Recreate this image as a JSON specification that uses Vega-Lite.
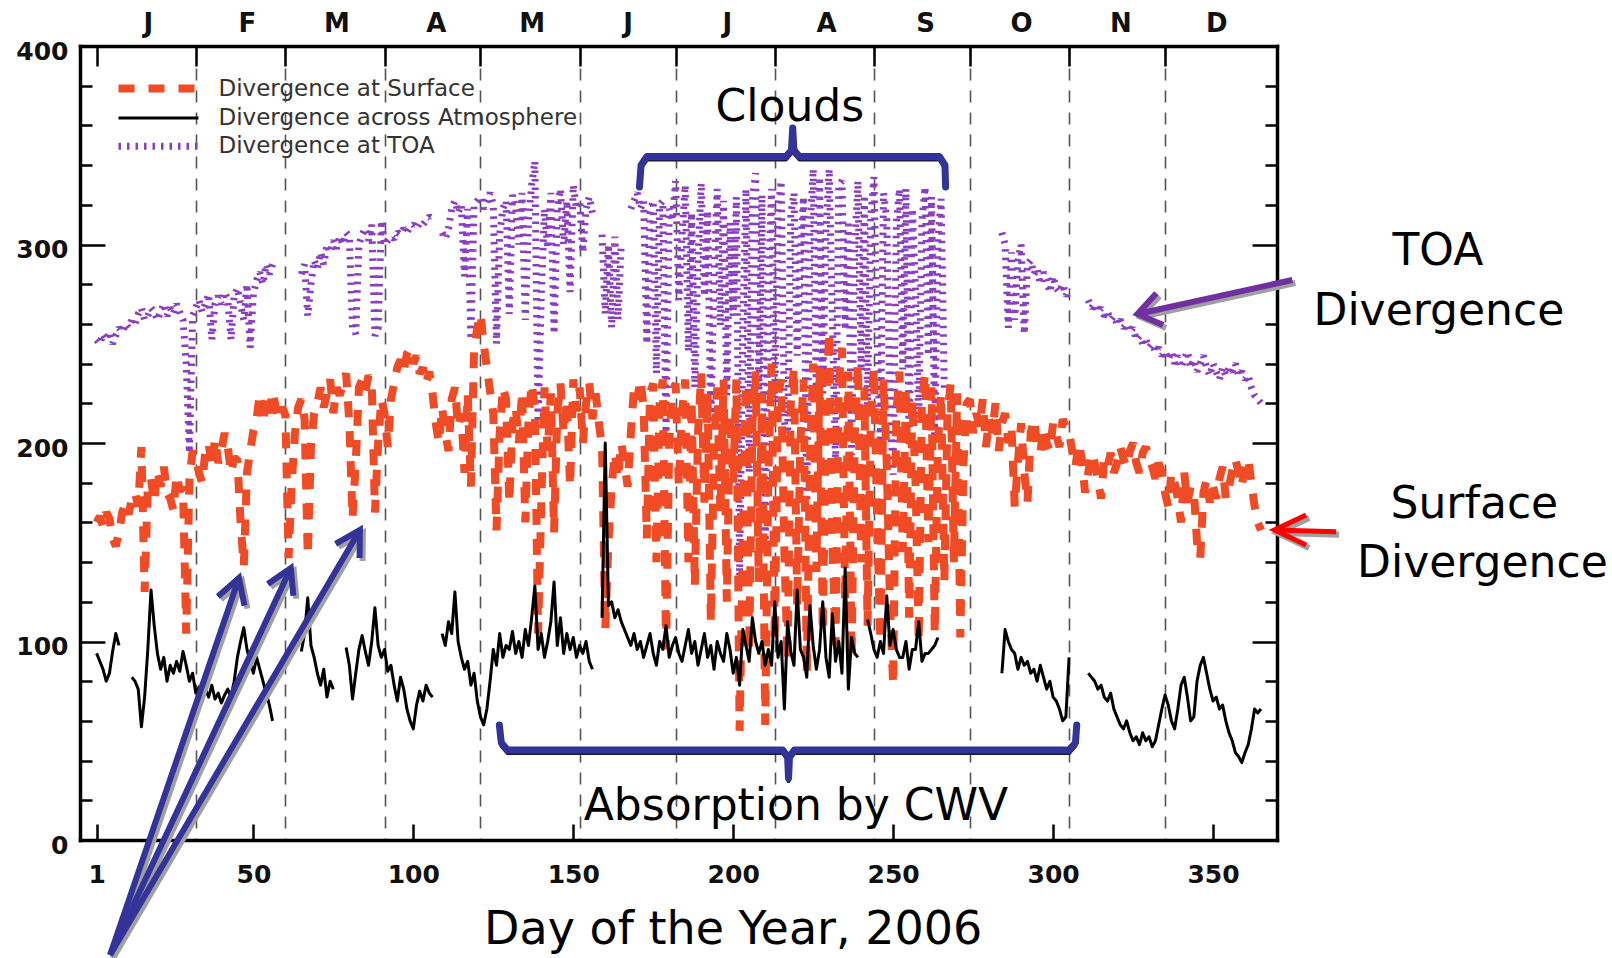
{
  "$schema": "https://vega.github.io/schema/vega-lite/v6.json",
  "width": 1197,
  "height": 794,
  "autosize": {"type": "none"},
  "padding": {"left": 80, "top": 46, "right": 335, "bottom": 118},
  "background": "white",
  "config": {
    "view": {"stroke": null},
    "legend": {
      "orient": "none", "legendX": 67, "legendY": 31, "direction": "vertical",
      "symbolType": "M-16,0H16", "symbolSize": 25, "labelOffset": 48.5,
      "labelFont": "DejaVu Sans", "labelFontSize": 23, "labelColor": "#333333",
      "labelLimit": 0, "rowPadding": 1.4, "padding": 0
    }
  },
  "datasets": {
    "series": [
      {"d":1,"s":160,"a":94,"t":252},{"d":2,"s":163,"a":90,"t":250},{"d":3,"s":158,"a":86,"t":255},{"d":4,"s":165,"a":80,"t":252},{"d":5,"s":162,"a":84,"t":256},
      {"d":6,"s":152,"a":95,"t":250},{"d":7,"s":148,"a":104,"t":254},{"d":8,"s":155,"a":98,"t":258},{"d":9,"s":165,"a":null,"t":256},{"d":10,"s":170,"a":null,"t":260},
      {"d":11,"s":164,"a":null,"t":258},{"d":12,"s":172,"a":82,"t":262},{"d":13,"s":175,"a":80,"t":260},{"d":14,"s":168,"a":76,"t":265},{"d":15,"s":198,"a":57,"t":268},
      {"d":16,"s":125,"a":72,"t":262},{"d":17,"s":178,"a":96,"t":264},{"d":18,"s":182,"a":126,"t":268},{"d":19,"s":170,"a":108,"t":266},{"d":20,"s":186,"a":94,"t":262},
      {"d":21,"s":178,"a":86,"t":266},{"d":22,"s":188,"a":92,"t":270},{"d":23,"s":175,"a":80,"t":264},{"d":24,"s":172,"a":88,"t":268},{"d":25,"s":166,"a":84,"t":265},
      {"d":26,"s":184,"a":90,"t":270},{"d":27,"s":176,"a":85,"t":266},{"d":28,"s":178,"a":95,"t":262},{"d":29,"s":104,"a":88,"t":240},{"d":30,"s":182,"a":80,"t":195},
      {"d":31,"s":196,"a":84,"t":264},{"d":32,"s":192,"a":74,"t":268},{"d":33,"s":185,"a":77,"t":272},{"d":34,"s":180,"a":70,"t":266},{"d":35,"s":196,"a":76,"t":270},
      {"d":36,"s":200,"a":72,"t":275},{"d":37,"s":188,"a":78,"t":252},{"d":38,"s":202,"a":71,"t":270},{"d":39,"s":190,"a":74,"t":274},{"d":40,"s":196,"a":69,"t":270},
      {"d":41,"s":205,"a":73,"t":276},{"d":42,"s":198,"a":76,"t":272},{"d":43,"s":185,"a":72,"t":252},{"d":44,"s":192,"a":80,"t":274},{"d":45,"s":192,"a":92,"t":278},
      {"d":46,"s":160,"a":100,"t":270},{"d":47,"s":138,"a":107,"t":262},{"d":48,"s":185,"a":96,"t":280},{"d":49,"s":196,"a":90,"t":248},{"d":50,"s":206,"a":84,"t":275},
      {"d":51,"s":212,"a":92,"t":282},{"d":52,"s":225,"a":86,"t":286},{"d":53,"s":210,"a":80,"t":280},{"d":54,"s":222,"a":74,"t":290},{"d":55,"s":215,"a":68,"t":285},
      {"d":56,"s":226,"a":60,"t":290},{"d":57,"s":218,"a":null,"t":null},{"d":58,"s":212,"a":null,"t":null},{"d":59,"s":218,"a":null,"t":null},{"d":60,"s":214,"a":null,"t":null},
      {"d":61,"s":142,"a":null,"t":null},{"d":62,"s":180,"a":null,"t":null},{"d":63,"s":205,"a":null,"t":null},{"d":64,"s":218,"a":null,"t":null},{"d":65,"s":222,"a":95,"t":285},
      {"d":66,"s":212,"a":104,"t":290},{"d":67,"s":143,"a":122,"t":264},{"d":68,"s":198,"a":98,"t":280},{"d":69,"s":215,"a":92,"t":292},{"d":70,"s":220,"a":84,"t":288},
      {"d":71,"s":228,"a":78,"t":296},{"d":72,"s":218,"a":86,"t":290},{"d":73,"s":225,"a":72,"t":300},{"d":74,"s":232,"a":80,"t":296},{"d":75,"s":215,"a":76,"t":302},
      {"d":76,"s":228,"a":null,"t":298},{"d":77,"s":224,"a":null,"t":304},{"d":78,"s":230,"a":null,"t":300},{"d":79,"s":235,"a":97,"t":306},{"d":80,"s":210,"a":88,"t":304},
      {"d":81,"s":162,"a":71,"t":258},{"d":82,"s":190,"a":84,"t":255},{"d":83,"s":228,"a":96,"t":300},{"d":84,"s":232,"a":103,"t":305},{"d":85,"s":226,"a":95,"t":308},
      {"d":86,"s":234,"a":88,"t":302},{"d":87,"s":230,"a":100,"t":310},{"d":88,"s":165,"a":117,"t":254},{"d":89,"s":200,"a":98,"t":258},{"d":90,"s":222,"a":92,"t":312},
      {"d":91,"s":215,"a":96,"t":300},{"d":92,"s":198,"a":85,"t":302},{"d":93,"s":222,"a":88,"t":304},{"d":94,"s":230,"a":78,"t":303},{"d":95,"s":238,"a":70,"t":306},
      {"d":96,"s":242,"a":82,"t":305},{"d":97,"s":236,"a":76,"t":308},{"d":98,"s":245,"a":66,"t":306},{"d":99,"s":248,"a":60,"t":309},{"d":100,"s":240,"a":56,"t":310},
      {"d":101,"s":244,"a":68,"t":308},{"d":102,"s":235,"a":75,"t":311},{"d":103,"s":238,"a":70,"t":310},{"d":104,"s":230,"a":78,"t":312},{"d":105,"s":236,"a":74,"t":314},
      {"d":106,"s":225,"a":72,"t":313},{"d":107,"s":210,"a":null,"t":null},{"d":108,"s":200,"a":null,"t":null},{"d":109,"s":218,"a":104,"t":306},{"d":110,"s":205,"a":98,"t":303},
      {"d":111,"s":196,"a":110,"t":308},{"d":112,"s":222,"a":104,"t":318},{"d":113,"s":228,"a":125,"t":322},{"d":114,"s":208,"a":100,"t":316},{"d":115,"s":215,"a":92,"t":320},
      {"d":116,"s":185,"a":86,"t":284},{"d":117,"s":225,"a":90,"t":318},{"d":118,"s":178,"a":78,"t":252},{"d":119,"s":248,"a":84,"t":320},{"d":120,"s":258,"a":70,"t":322},
      {"d":121,"s":265,"a":62,"t":324},{"d":122,"s":250,"a":58,"t":318},{"d":123,"s":238,"a":66,"t":322},{"d":124,"s":226,"a":80,"t":326},{"d":125,"s":215,"a":96,"t":320},
      {"d":126,"s":156,"a":88,"t":250},{"d":127,"s":205,"a":104,"t":305},{"d":128,"s":228,"a":92,"t":318},{"d":129,"s":222,"a":98,"t":322},{"d":130,"s":170,"a":96,"t":265},
      {"d":131,"s":210,"a":105,"t":325},{"d":132,"s":218,"a":94,"t":318},{"d":133,"s":200,"a":100,"t":300},{"d":134,"s":226,"a":92,"t":326},{"d":135,"s":160,"a":106,"t":262},
      {"d":136,"s":212,"a":98,"t":312},{"d":137,"s":230,"a":112,"t":330},{"d":138,"s":218,"a":128,"t":342},{"d":139,"s":104,"a":96,"t":208},{"d":140,"s":170,"a":104,"t":275},
      {"d":141,"s":228,"a":92,"t":318},{"d":142,"s":196,"a":100,"t":298},{"d":143,"s":225,"a":110,"t":326},{"d":144,"s":155,"a":130,"t":255},{"d":145,"s":215,"a":98,"t":318},
      {"d":146,"s":230,"a":112,"t":328},{"d":147,"s":205,"a":94,"t":300},{"d":148,"s":222,"a":104,"t":322},{"d":149,"s":178,"a":96,"t":276},{"d":150,"s":232,"a":102,"t":330},
      {"d":151,"s":216,"a":92,"t":318},{"d":152,"s":228,"a":98,"t":322},{"d":153,"s":200,"a":94,"t":296},{"d":154,"s":220,"a":100,"t":318},{"d":155,"s":230,"a":90,"t":324},
      {"d":156,"s":212,"a":86,"t":316},{"d":157,"s":225,"a":null,"t":null},{"d":158,"s":210,"a":null,"t":null},{"d":159,"s":198,"a":112,"t":305},{"d":160,"s":106,"a":200,"t":265},
      {"d":161,"s":150,"a":118,"t":300},{"d":162,"s":178,"a":120,"t":258},{"d":163,"s":195,"a":112,"t":304},{"d":164,"s":182,"a":116,"t":262},{"d":165,"s":200,"a":110,"t":300},
      {"d":166,"s":190,"a":106,"t":null},{"d":167,"s":178,"a":102,"t":null},{"d":168,"s":205,"a":98,"t":318},{"d":169,"s":228,"a":104,"t":322},{"d":170,"s":222,"a":96,"t":326},
      {"d":171,"s":232,"a":100,"t":318},{"d":172,"s":218,"a":92,"t":322},{"d":173,"s":152,"a":98,"t":250},{"d":174,"s":225,"a":104,"t":316},{"d":175,"s":230,"a":94,"t":322},
      {"d":176,"s":140,"a":88,"t":235},{"d":177,"s":220,"a":100,"t":320},{"d":178,"s":232,"a":96,"t":322},{"d":179,"s":96,"a":108,"t":205},{"d":180,"s":200,"a":92,"t":318},
      {"d":181,"s":226,"a":98,"t":312},{"d":182,"s":230,"a":102,"t":332},{"d":183,"s":178,"a":94,"t":272},{"d":184,"s":215,"a":90,"t":305},{"d":185,"s":232,"a":98,"t":330},
      {"d":186,"s":140,"a":106,"t":246},{"d":187,"s":222,"a":94,"t":316},{"d":188,"s":128,"a":100,"t":228},{"d":189,"s":205,"a":88,"t":293},{"d":190,"s":235,"a":96,"t":331},
      {"d":191,"s":170,"a":104,"t":274},{"d":192,"s":225,"a":92,"t":317},{"d":193,"s":110,"a":98,"t":208},{"d":194,"s":198,"a":86,"t":284},{"d":195,"s":228,"a":100,"t":328},
      {"d":196,"s":165,"a":94,"t":259},{"d":197,"s":232,"a":90,"t":322},{"d":198,"s":120,"a":104,"t":224},{"d":199,"s":215,"a":96,"t":311},{"d":200,"s":180,"a":84,"t":264},
      {"d":201,"s":232,"a":92,"t":324},{"d":202,"s":55,"a":78,"t":133},{"d":203,"s":150,"a":106,"t":256},{"d":204,"s":230,"a":98,"t":328},{"d":205,"s":95,"a":90,"t":185},
      {"d":206,"s":210,"a":112,"t":322},{"d":207,"s":236,"a":100,"t":336},{"d":208,"s":130,"a":94,"t":224},{"d":209,"s":225,"a":100,"t":325},{"d":210,"s":58,"a":88,"t":146},
      {"d":211,"s":185,"a":96,"t":281},{"d":212,"s":240,"a":88,"t":328},{"d":213,"s":100,"a":120,"t":220},{"d":214,"s":225,"a":92,"t":317},{"d":215,"s":232,"a":100,"t":332},
      {"d":216,"s":145,"a":66,"t":211},{"d":217,"s":90,"a":110,"t":200},{"d":218,"s":220,"a":95,"t":315},{"d":219,"s":238,"a":88,"t":326},{"d":220,"s":118,"a":126,"t":244},
      {"d":221,"s":200,"a":96,"t":296},{"d":222,"s":232,"a":92,"t":324},{"d":223,"s":84,"a":82,"t":166},{"d":224,"s":190,"a":118,"t":308},{"d":225,"s":240,"a":98,"t":338},
      {"d":226,"s":135,"a":86,"t":221},{"d":227,"s":238,"a":96,"t":334},{"d":228,"s":105,"a":120,"t":225},{"d":229,"s":215,"a":92,"t":307},{"d":230,"s":256,"a":82,"t":338},
      {"d":231,"s":150,"a":114,"t":264},{"d":232,"s":98,"a":90,"t":188},{"d":233,"s":230,"a":100,"t":330},{"d":234,"s":248,"a":84,"t":332},{"d":235,"s":120,"a":137,"t":257},
      {"d":236,"s":236,"a":76,"t":312},{"d":237,"s":92,"a":102,"t":194},{"d":238,"s":205,"a":94,"t":299},{"d":239,"s":240,"a":92,"t":332},{"d":240,"s":140,"a":null,"t":236},
      {"d":241,"s":228,"a":null,"t":325},{"d":242,"s":108,"a":111,"t":219},{"d":243,"s":210,"a":104,"t":314},{"d":244,"s":238,"a":96,"t":334},{"d":245,"s":160,"a":92,"t":252},
      {"d":246,"s":100,"a":100,"t":200},{"d":247,"s":232,"a":94,"t":326},{"d":248,"s":190,"a":123,"t":313},{"d":249,"s":120,"a":98,"t":218},{"d":250,"s":78,"a":106,"t":184},
      {"d":251,"s":215,"a":96,"t":311},{"d":252,"s":236,"a":92,"t":328},{"d":253,"s":145,"a":92,"t":237},{"d":254,"s":228,"a":100,"t":328},{"d":255,"s":112,"a":86,"t":198},
      {"d":256,"s":222,"a":96,"t":318},{"d":257,"s":180,"a":96,"t":276},{"d":258,"s":100,"a":110,"t":210},{"d":259,"s":222,"a":90,"t":312},{"d":260,"s":235,"a":94,"t":329},
      {"d":261,"s":150,"a":94,"t":244},{"d":262,"s":228,"a":96,"t":324},{"d":263,"s":104,"a":98,"t":202},{"d":264,"s":200,"a":102,"t":302},{"d":265,"s":225,"a":null,"t":323},
      {"d":266,"s":130,"a":null,"t":226},{"d":267,"s":215,"a":null,"t":null},{"d":268,"s":230,"a":null,"t":null},{"d":269,"s":140,"a":null,"t":null},{"d":270,"s":225,"a":null,"t":null},
      {"d":271,"s":102,"a":null,"t":null},{"d":272,"s":190,"a":null,"t":null},{"d":273,"s":220,"a":null,"t":null},{"d":274,"s":222,"a":null,"t":null},{"d":275,"s":205,"a":null,"t":null},
      {"d":276,"s":215,"a":null,"t":null},{"d":277,"s":208,"a":null,"t":null},{"d":278,"s":222,"a":null,"t":null},{"d":279,"s":198,"a":null,"t":null},{"d":280,"s":212,"a":null,"t":null},
      {"d":281,"s":205,"a":null,"t":null},{"d":282,"s":220,"a":null,"t":null},{"d":283,"s":196,"a":null,"t":null},{"d":284,"s":210,"a":84,"t":306},{"d":285,"s":215,"a":106,"t":300},
      {"d":286,"s":200,"a":100,"t":258},{"d":287,"s":208,"a":96,"t":296},{"d":288,"s":168,"a":94,"t":262},{"d":289,"s":190,"a":86,"t":292},{"d":290,"s":210,"a":92,"t":300},
      {"d":291,"s":185,"a":88,"t":255},{"d":292,"s":170,"a":90,"t":290},{"d":293,"s":205,"a":84,"t":292},{"d":294,"s":212,"a":86,"t":285},{"d":295,"s":200,"a":80,"t":288},
      {"d":296,"s":195,"a":88,"t":280},{"d":297,"s":208,"a":82,"t":286},{"d":298,"s":200,"a":76,"t":282},{"d":299,"s":196,"a":80,"t":276},{"d":300,"s":210,"a":72,"t":284},
      {"d":301,"s":204,"a":70,"t":278},{"d":302,"s":198,"a":66,"t":276},{"d":303,"s":212,"a":60,"t":280},{"d":304,"s":208,"a":62,"t":274},{"d":305,"s":205,"a":92,"t":278},
      {"d":306,"s":196,"a":null,"t":null},{"d":307,"s":188,"a":null,"t":null},{"d":308,"s":200,"a":null,"t":null},{"d":309,"s":192,"a":null,"t":null},{"d":310,"s":175,"a":null,"t":null},
      {"d":311,"s":185,"a":84,"t":272},{"d":312,"s":195,"a":82,"t":268},{"d":313,"s":190,"a":80,"t":270},{"d":314,"s":182,"a":76,"t":266},{"d":315,"s":172,"a":78,"t":268},
      {"d":316,"s":192,"a":72,"t":264},{"d":317,"s":188,"a":70,"t":266},{"d":318,"s":195,"a":74,"t":262},{"d":319,"s":185,"a":66,"t":264},{"d":320,"s":190,"a":62,"t":260},
      {"d":321,"s":198,"a":58,"t":262},{"d":322,"s":192,"a":56,"t":258},{"d":323,"s":188,"a":60,"t":260},{"d":324,"s":196,"a":54,"t":256},{"d":325,"s":200,"a":50,"t":258},
      {"d":326,"s":190,"a":52,"t":252},{"d":327,"s":185,"a":48,"t":254},{"d":328,"s":195,"a":54,"t":250},{"d":329,"s":198,"a":50,"t":252},{"d":330,"s":192,"a":52,"t":248},
      {"d":331,"s":188,"a":47,"t":250},{"d":332,"s":182,"a":50,"t":246},{"d":333,"s":190,"a":58,"t":248},{"d":334,"s":185,"a":66,"t":244},{"d":335,"s":175,"a":73,"t":246},
      {"d":336,"s":168,"a":68,"t":242},{"d":337,"s":185,"a":60,"t":246},{"d":338,"s":180,"a":56,"t":240},{"d":339,"s":172,"a":66,"t":244},{"d":340,"s":160,"a":78,"t":238},
      {"d":341,"s":185,"a":82,"t":242},{"d":342,"s":170,"a":72,"t":246},{"d":343,"s":178,"a":60,"t":238},{"d":344,"s":176,"a":62,"t":242},{"d":345,"s":150,"a":80,"t":236},
      {"d":346,"s":142,"a":88,"t":240},{"d":347,"s":175,"a":92,"t":244},{"d":348,"s":182,"a":84,"t":238},{"d":349,"s":170,"a":76,"t":234},{"d":350,"s":178,"a":70,"t":240},
      {"d":351,"s":172,"a":72,"t":236},{"d":352,"s":182,"a":66,"t":232},{"d":353,"s":188,"a":68,"t":238},{"d":354,"s":172,"a":60,"t":234},{"d":355,"s":178,"a":54,"t":238},
      {"d":356,"s":186,"a":50,"t":236},{"d":357,"s":192,"a":44,"t":240},{"d":358,"s":185,"a":42,"t":234},{"d":359,"s":178,"a":39,"t":236},{"d":360,"s":190,"a":44,"t":232},
      {"d":361,"s":192,"a":48,"t":234},{"d":362,"s":180,"a":56,"t":228},{"d":363,"s":168,"a":66,"t":224},{"d":364,"s":160,"a":64,"t":222},{"d":365,"s":156,"a":66,"t":220}
    ],
    "brackets": [
      {"b":"clouds","k":1,"d":170.7,"v":329},{"b":"clouds","k":2,"d":171.2,"v":340},{"b":"clouds","k":3,"d":173,"v":344.3},
      {"b":"clouds","k":4,"d":216.5,"v":344.3},{"b":"clouds","k":5,"d":218.2,"v":347.5},{"b":"clouds","k":6,"d":218.6,"v":358.7},
      {"b":"clouds","k":7,"d":219.0,"v":347.5},{"b":"clouds","k":8,"d":220.7,"v":344.3},{"b":"clouds","k":9,"d":264.5,"v":344.3},
      {"b":"clouds","k":10,"d":266.2,"v":340},{"b":"clouds","k":11,"d":266.4,"v":329},
      {"b":"cwv","k":1,"d":126.9,"v":57.9},{"b":"cwv","k":2,"d":127.5,"v":49},{"b":"cwv","k":3,"d":129.5,"v":45.3},
      {"b":"cwv","k":4,"d":215.5,"v":45.3},{"b":"cwv","k":5,"d":217.0,"v":42},{"b":"cwv","k":6,"d":217.3,"v":31.2},
      {"b":"cwv","k":7,"d":217.6,"v":42},{"b":"cwv","k":8,"d":219.1,"v":45.3},{"b":"cwv","k":9,"d":305,"v":45.3},
      {"b":"cwv","k":10,"d":307,"v":49},{"b":"cwv","k":11,"d":307.4,"v":57.9}
    ],
    "arrows": [
      {"grp":"blue","id":"c1s","k":1,"d":5.2,"v":-57.9},{"grp":"blue","id":"c1s","k":2,"d":45.5,"v":132},
      {"grp":"blue","id":"c1h","k":1,"d":38.9,"v":122.7},{"grp":"blue","id":"c1h","k":2,"d":45.5,"v":132},{"grp":"blue","id":"c1h","k":3,"d":47.2,"v":118.1},
      {"grp":"blue","id":"c2s","k":1,"d":5.2,"v":-57.9},{"grp":"blue","id":"c2s","k":2,"d":61.7,"v":137},
      {"grp":"blue","id":"c2h","k":1,"d":54.5,"v":129},{"grp":"blue","id":"c2h","k":2,"d":61.7,"v":137},{"grp":"blue","id":"c2h","k":3,"d":62.5,"v":123},
      {"grp":"blue","id":"c3s","k":1,"d":5.2,"v":-57.9},{"grp":"blue","id":"c3s","k":2,"d":83.3,"v":156.2},
      {"grp":"blue","id":"c3h","k":1,"d":75.7,"v":149.2},{"grp":"blue","id":"c3h","k":2,"d":83.3,"v":156.2},{"grp":"blue","id":"c3h","k":3,"d":83.2,"v":142.1},
      {"grp":"purple","id":"ts","k":1,"d":374.8,"v":282.1},{"grp":"purple","id":"ts","k":2,"d":326.4,"v":265},
      {"grp":"purple","id":"th","k":1,"d":334.4,"v":259.5},{"grp":"purple","id":"th","k":2,"d":326.4,"v":265},{"grp":"purple","id":"th","k":3,"d":332.3,"v":275.4},
      {"grp":"red","id":"ss","k":1,"d":388.5,"v":155.3},{"grp":"red","id":"ss","k":2,"d":369.2,"v":156.2},
      {"grp":"red","id":"sh","k":1,"d":379.1,"v":163.7},{"grp":"red","id":"sh","k":2,"d":369.2,"v":156.2},{"grp":"red","id":"sh","k":3,"d":379.1,"v":148.6}
    ],
    "notes": [
      {"txt":"Clouds","d":217.7,"v":362.2},
      {"txt":"Absorption by CWV","d":219.6,"v":10.1},
      {"txt":"TOA","d":420.3,"v":289.7},
      {"txt":"Divergence","d":420.6,"v":259.4},
      {"txt":"Surface","d":431.7,"v":162.2},
      {"txt":"Divergence","d":434.2,"v":132.5}
    ]
  },
  "data": {"name": "series"},
  "layer": [
    {
      "mark": {"type": "line", "strokeCap": "butt", "strokeJoin": "bevel", "invalid": "break-paths-show-domains"},
      "encoding": {
        "x": {"field": "d", "type": "quantitative", "scale": {"domain": [-4.2, 370], "nice": false, "zero": false},
          "axis": {"orient": "bottom", "values": [1, 50, 100, 150, 200, 250, 300, 350], "tickSize": -16, "tickWidth": 2.5, "tickColor": "black",
            "domain": true, "domainWidth": 3.5, "domainColor": "black", "domainCap": "square", "grid": false,
            "labelFont": "DejaVu Sans", "labelFontWeight": "bold", "labelFontSize": 25, "labelColor": "#111111", "labelPadding": 38,
            "labelFlush": false, "labelOverlap": false,
            "title": "Day of the Year, 2006", "titleFont": "DejaVu Sans", "titleFontSize": 46, "titleFontWeight": "normal", "titleColor": "black",
            "titleX": 652.7, "titleY": 103, "titleAlign": "center", "titleBaseline": "alphabetic"}},
        "y": {"field": "t", "type": "quantitative", "scale": {"domain": [0, 400], "nice": false, "zero": false},
          "axis": {"orient": "left", "values": [0, 100, 200, 300, 400], "tickSize": -25, "tickWidth": 2.5, "tickColor": "black",
            "domain": true, "domainWidth": 3.5, "domainColor": "black", "domainCap": "square", "grid": false,
            "labelFont": "DejaVu Sans", "labelFontWeight": "bold", "labelFontSize": 25, "labelColor": "#111111", "labelPadding": 37, "labelOffset": 5,
            "labelFlush": false, "labelOverlap": false, "title": null}},
        "color": {"datum": "Divergence at TOA", "type": "nominal",
          "scale": {"domain": ["Divergence at Surface", "Divergence across Atmosphere", "Divergence at TOA"], "range": ["#f04b25", "#000000", "#8a3ec0"]},
          "legend": {"title": null}},
        "strokeDash": {"datum": "Divergence at TOA", "type": "nominal",
          "scale": {"domain": ["Divergence at Surface", "Divergence across Atmosphere", "Divergence at TOA"], "range": [[16, 14], [1, 0], [2.5, 6]]},
          "legend": {"title": null}},
        "strokeWidth": {"datum": "Divergence at TOA", "type": "nominal",
          "scale": {"type": "ordinal", "domain": ["Divergence at Surface", "Divergence across Atmosphere", "Divergence at TOA"], "range": [8, 3, 7]},
          "legend": {"title": null}}
      }
    },
    {
      "mark": {"type": "line", "strokeCap": "butt", "strokeJoin": "bevel", "invalid": "break-paths-show-domains"},
      "encoding": {
        "x": {"field": "d", "type": "quantitative", "scale": {"domain": [-4.2, 370], "nice": false, "zero": false},
          "axis": {"orient": "top", "values": [1, 32, 60, 91, 121, 152, 182, 213, 244, 274, 305, 335], "tickSize": -20, "tickWidth": 2.5, "tickColor": "black",
            "domain": true, "domainWidth": 3.5, "domainColor": "black", "domainCap": "square", "labels": false, "grid": false, "title": null}},
        "y": {"field": "s", "type": "quantitative", "scale": {"domain": [0, 400], "nice": false, "zero": false},
          "axis": {"orient": "right", "values": [0, 100, 200, 300, 400], "tickSize": -25, "tickWidth": 2.5, "tickColor": "black",
            "domain": true, "domainWidth": 3.5, "domainColor": "black", "domainCap": "square", "labels": false, "grid": false, "title": null}},
        "color": {"datum": "Divergence at Surface", "type": "nominal",
          "scale": {"domain": ["Divergence at Surface", "Divergence across Atmosphere", "Divergence at TOA"], "range": ["#f04b25", "#000000", "#8a3ec0"]},
          "legend": {"title": null}},
        "strokeDash": {"datum": "Divergence at Surface", "type": "nominal",
          "scale": {"domain": ["Divergence at Surface", "Divergence across Atmosphere", "Divergence at TOA"], "range": [[16, 14], [1, 0], [2.5, 6]]},
          "legend": {"title": null}},
        "strokeWidth": {"datum": "Divergence at Surface", "type": "nominal",
          "scale": {"type": "ordinal", "domain": ["Divergence at Surface", "Divergence across Atmosphere", "Divergence at TOA"], "range": [8, 3, 7]},
          "legend": {"title": null}}
      }
    },
    {
      "mark": {"type": "line", "strokeCap": "butt", "strokeJoin": "round", "invalid": "break-paths-show-domains"},
      "encoding": {
        "x": {"field": "d", "type": "quantitative", "scale": {"domain": [-4.2, 370], "nice": false, "zero": false},
          "axis": {"orient": "top", "values": [17, 48, 76, 107, 137, 167, 198, 229, 260, 290, 321, 351], "ticks": false, "tickSize": 0, "domain": false, "grid": false,
            "labelExpr": "{'17':'J','48':'F','76':'M','107':'A','137':'M','167':'J','198':'J','229':'A','260':'S','290':'O','321':'N','351':'D'}[datum.label]",
            "labelFont": "DejaVu Sans", "labelFontWeight": "bold", "labelFontSize": 26, "labelColor": "#111111", "labelPadding": 23, "labelBaseline": "middle",
            "labelFlush": false, "labelOverlap": false, "title": null}},
        "y": {"field": "a", "type": "quantitative", "scale": {"domain": [0, 400], "nice": false, "zero": false},
          "axis": {"orient": "left", "values": [20, 40, 60, 80, 120, 140, 160, 180, 220, 240, 260, 280, 320, 340, 360, 380], "tickSize": -12, "tickWidth": 2.5, "tickColor": "black",
            "domain": false, "labels": false, "grid": false, "title": null}},
        "color": {"datum": "Divergence across Atmosphere", "type": "nominal",
          "scale": {"domain": ["Divergence at Surface", "Divergence across Atmosphere", "Divergence at TOA"], "range": ["#f04b25", "#000000", "#8a3ec0"]},
          "legend": {"title": null}},
        "strokeDash": {"datum": "Divergence across Atmosphere", "type": "nominal",
          "scale": {"domain": ["Divergence at Surface", "Divergence across Atmosphere", "Divergence at TOA"], "range": [[16, 14], [1, 0], [2.5, 6]]},
          "legend": {"title": null}},
        "strokeWidth": {"datum": "Divergence across Atmosphere", "type": "nominal",
          "scale": {"type": "ordinal", "domain": ["Divergence at Surface", "Divergence across Atmosphere", "Divergence at TOA"], "range": [8, 3, 7]},
          "legend": {"title": null}}
      }
    },
    {
      "data": {"name": "brackets"},
      "mark": {"type": "line", "color": "#1a1a40", "strokeWidth": 4, "strokeJoin": "round", "yOffset": 3},
      "encoding": {
        "x": {"field": "d", "type": "quantitative", "scale": {"domain": [-4.2, 370], "nice": false, "zero": false},
          "axis": {"orient": "bottom", "values": [32, 60, 91, 121, 152, 182, 213, 244, 274, 305, 335], "grid": true, "gridDash": [12, 10], "gridColor": "#555555", "gridWidth": 1.6,
            "ticks": false, "labels": false, "domain": false, "title": null}},
        "y": {"field": "v", "type": "quantitative", "scale": {"domain": [0, 400], "nice": false, "zero": false},
          "axis": {"orient": "right", "values": [20, 40, 60, 80, 120, 140, 160, 180, 220, 240, 260, 280, 320, 340, 360, 380], "tickSize": -12, "tickWidth": 2.5, "tickColor": "black",
            "domain": false, "labels": false, "grid": false, "title": null}},
        "detail": {"field": "b"},
        "order": {"field": "k", "type": "quantitative"}
      }
    },
    {
      "data": {"name": "brackets"},
      "mark": {"type": "line", "color": "#333399", "strokeWidth": 7, "strokeJoin": "round", "strokeCap": "round"},
      "encoding": {
        "x": {"field": "d", "type": "quantitative", "axis": null},
        "y": {"field": "v", "type": "quantitative", "axis": null},
        "detail": {"field": "b"},
        "order": {"field": "k", "type": "quantitative"}
      }
    },
    {
      "data": {"name": "arrows"},
      "mark": {"type": "line", "color": "#a0a0a0", "strokeWidth": 6, "strokeJoin": "miter", "xOffset": 3, "yOffset": 3},
      "encoding": {
        "x": {"field": "d", "type": "quantitative", "axis": null},
        "y": {"field": "v", "type": "quantitative", "axis": null},
        "detail": {"field": "id"},
        "order": {"field": "k", "type": "quantitative"}
      }
    },
    {
      "data": {"name": "arrows"},
      "transform": [{"filter": "datum.grp == 'blue'"}],
      "mark": {"type": "line", "color": "#333399", "strokeWidth": 6, "strokeJoin": "miter"},
      "encoding": {
        "x": {"field": "d", "type": "quantitative", "axis": null},
        "y": {"field": "v", "type": "quantitative", "axis": null},
        "detail": {"field": "id"},
        "order": {"field": "k", "type": "quantitative"}
      }
    },
    {
      "data": {"name": "arrows"},
      "transform": [{"filter": "datum.grp == 'purple'"}],
      "mark": {"type": "line", "color": "#7030a0", "strokeWidth": 6, "strokeJoin": "miter"},
      "encoding": {
        "x": {"field": "d", "type": "quantitative", "axis": null},
        "y": {"field": "v", "type": "quantitative", "axis": null},
        "detail": {"field": "id"},
        "order": {"field": "k", "type": "quantitative"}
      }
    },
    {
      "data": {"name": "arrows"},
      "transform": [{"filter": "datum.grp == 'red'"}],
      "mark": {"type": "line", "color": "#ff0000", "strokeWidth": 5, "strokeJoin": "miter"},
      "encoding": {
        "x": {"field": "d", "type": "quantitative", "axis": null},
        "y": {"field": "v", "type": "quantitative", "axis": null},
        "detail": {"field": "id"},
        "order": {"field": "k", "type": "quantitative"}
      }
    },
    {
      "data": {"name": "notes"},
      "mark": {"type": "text", "font": "DejaVu Sans", "fontSize": 44, "align": "center", "baseline": "alphabetic", "color": "black"},
      "encoding": {
        "x": {"field": "d", "type": "quantitative", "axis": null},
        "y": {"field": "v", "type": "quantitative", "axis": null},
        "text": {"field": "txt"}
      }
    }
  ],
  "resolve": {"axis": {"x": "independent", "y": "independent"}}
}
